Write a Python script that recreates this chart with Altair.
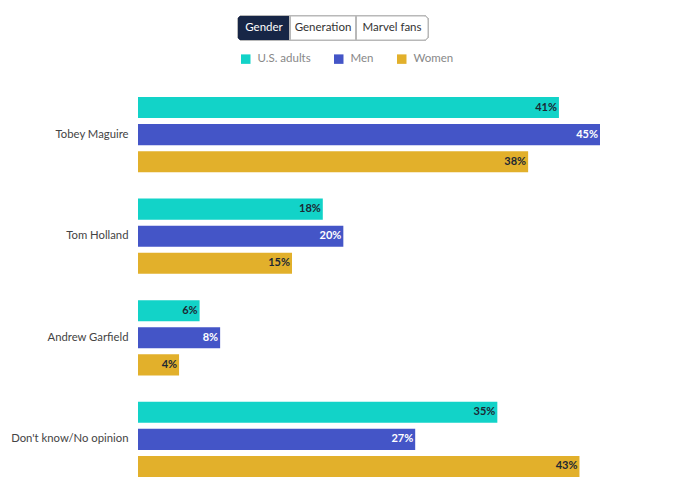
import altair as alt
import pandas as pd

categories = ["Tobey Maguire", "Tom Holland", "Andrew Garfield", "Don't know/No opinion"]
series = ["U.S. adults", "Men", "Women"]
us_adults = [41, 18, 6, 35]
men = [45, 20, 8, 27]
women = [38, 15, 4, 43]
colors = ["#12d3c8", "#4455c7", "#e2b02b"]
buttons = ["Gender", "Generation", "Marvel fans"]

rows = []
for i, c in enumerate(categories):
    for s, vals in zip(series, [us_adults, men, women]):
        rows.append({"category": c, "series": s, "value": vals[i], "label": f"{vals[i]}%"})
df = pd.DataFrame(rows)

FONT = "Lato"

y_enc = alt.Y("category:N", sort=categories,
              scale=alt.Scale(paddingInner=0.2, paddingOuter=0),
              axis=alt.Axis(title=None, ticks=False, domain=False, labelPadding=10,
                            labelFontSize=11.3, labelColor="#444", labelFont=FONT, grid=False))
yoff = alt.YOffset("series:N", sort=series,
                   scale=alt.Scale(paddingInner=0.222, paddingOuter=0.111))
x_enc = alt.X("value:Q", scale=alt.Scale(domain=[0, 45], nice=False, zero=True), axis=None)

base = alt.Chart(df)

bars = base.mark_bar().encode(
    x=x_enc, y=y_enc, yOffset=yoff,
    color=alt.Color("series:N", sort=series,
                    scale=alt.Scale(domain=series, range=colors),
                    legend=alt.Legend(title=None, orient="none", legendX=102, legendY=-41,
                                      direction="horizontal", symbolType="square",
                                      symbolSize=90, symbolStrokeWidth=0, labelFontSize=11.5,
                                      labelColor="#888", labelFont=FONT, columnPadding=22,
                                      labelOffset=6, padding=0)),
)

labels = base.mark_text(align="right", baseline="middle", dx=-2, fontWeight="bold",
                        fontSize=11, font=FONT).encode(
    x=x_enc, y=y_enc, yOffset=yoff, text="label:N",
    color=alt.condition(alt.datum.series == "Men", alt.value("white"), alt.value("#1c2833")),
)

# toggle buttons decoration (above plot area)
btn_edges = [100, 152, 218, 290]
btn_layers = []
frame = alt.Chart(df).mark_rect(fill="white", stroke="#b8b8b8", strokeWidth=1, cornerRadius=4).encode(
    x=alt.value(btn_edges[0]), x2=alt.value(btn_edges[-1]), y=alt.value(-78), y2=alt.value(-54))
btn_layers.append(frame)
active = alt.Chart(df).mark_rect(fill="#172646", cornerRadiusTopLeft=4, cornerRadiusBottomLeft=4).encode(
    x=alt.value(btn_edges[0]), x2=alt.value(btn_edges[1]), y=alt.value(-78), y2=alt.value(-54))
btn_layers.append(active)
for e in btn_edges[1:-1]:
    btn_layers.append(alt.Chart(df).mark_rule(color="#b8b8b8").encode(
        x=alt.value(e), y=alt.value(-78), y2=alt.value(-54)))
for i, b in enumerate(buttons):
    cx = (btn_edges[i] + btn_edges[i + 1]) / 2
    btn_layers.append(alt.Chart(pd.DataFrame({"t": [b]})).mark_text(
        fontSize=11.5, font=FONT, color="white" if i == 0 else "#333", baseline="middle").encode(
        x=alt.value(cx), y=alt.value(-66), text="t:N"))

chart = alt.layer(bars, labels, *btn_layers).properties(
    width=462, height=386,
    background="white",
    autosize=alt.AutoSizeParams(type="none"),
    padding={"left": 130, "top": 86, "right": 80, "bottom": 5},
).configure_view(strokeWidth=0)

chart.save("out.html", embed_options={"renderer": "svg", "actions": False})
